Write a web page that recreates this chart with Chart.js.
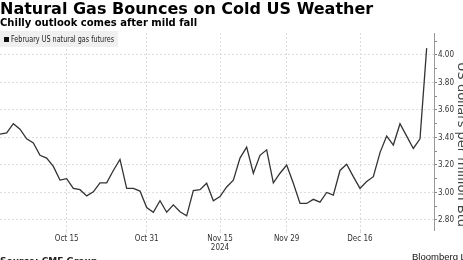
<!DOCTYPE html>
<html>
<head>
<meta charset="utf-8">
<script src="https://cdn.jsdelivr.net/npm/chart.js@4.4.1/dist/chart.umd.min.js"></script>
<style>
  html, body { margin: 0; padding: 0; background: #fff; }
  body { width: 463px; height: 260px; overflow: hidden; position: relative; font-family: "DejaVu Sans", sans-serif; color: #000; }
  #title { position: absolute; left: 0; top: -1px; font-size: 16px; font-weight: bold; white-space: nowrap; }
  #subtitle { position: absolute; left: 0; top: 17px; font-size: 10px; font-weight: bold; white-space: nowrap; }
  #wrap { position: absolute; left: 0; top: 0; width: 475px; height: 260px; }
  #legend { position: absolute; left: 0; top: 31px; width: 118px; height: 16px; background: #f0f0f0; font-size: 8.5px; line-height: 16px; color: #222; white-space: nowrap; overflow: hidden; }
  #legend i { display: inline-block; width: 5px; height: 5px; background: #111; margin: 0 0 0 4px; vertical-align: 0; }
  #legend span { display: inline-block; transform: scaleX(0.76); transform-origin: 0 50%; margin-left: 2px; }
  #ytitle { position: absolute; left: 456px; top: 62px; writing-mode: vertical-rl; font-size: 13px; line-height: 13px; color: #444; white-space: nowrap; }
  #source { position: absolute; left: 0; top: 256px; font-size: 9px; font-weight: bold; color: #222; white-space: nowrap; }
  #brand { position: absolute; left: 412px; top: 251px; font-family: "Liberation Sans", sans-serif; font-size: 9.5px; color: #111; white-space: nowrap; }
</style>
</head>
<body>
<div id="wrap"><canvas id="chart" width="475" height="260"></canvas></div>
<div id="title">Natural Gas Bounces on Cold US Weather</div>
<div id="subtitle">Chilly outlook comes after mild fall</div>
<div id="legend"><i></i><span>February US natural gas futures</span></div>
<div id="ytitle">US dollars per million Btu</div>
<div id="source">Source: CME Group</div>
<div id="brand">Bloomberg L.P.</div>
<script>
// trading days, Oct 1 - Dec 31 2024
const dates = [
  'Oct 1','Oct 2','Oct 3','Oct 4','Oct 7','Oct 8','Oct 9','Oct 10','Oct 11','Oct 14',
  'Oct 15','Oct 16','Oct 17','Oct 18','Oct 21','Oct 22','Oct 23','Oct 24','Oct 25','Oct 28',
  'Oct 29','Oct 30','Oct 31','Nov 1','Nov 4','Nov 5','Nov 6','Nov 7','Nov 8','Nov 11',
  'Nov 12','Nov 13','Nov 14','Nov 15','Nov 18','Nov 19','Nov 20','Nov 21','Nov 22','Nov 25',
  'Nov 26','Nov 27','Nov 28','Nov 29','Dec 2','Dec 3','Dec 4','Dec 5','Dec 6','Dec 9',
  'Dec 10','Dec 11','Dec 12','Dec 13','Dec 16','Dec 17','Dec 18','Dec 19','Dec 20','Dec 23',
  'Dec 24','Dec 26','Dec 27','Dec 30','Dec 31'
];
// February US natural gas futures, USD per MMBtu
const prices = [
  3.425, 3.433, 3.50, 3.46, 3.39, 3.36, 3.27, 3.25, 3.19, 3.09,
  3.10, 3.03, 3.02, 2.975, 3.005, 3.07, 3.07, 3.16, 3.24, 3.03,
  3.03, 3.01, 2.89, 2.856, 2.94, 2.856, 2.91, 2.86, 2.83, 3.013,
  3.02, 3.067, 2.94, 2.97, 3.04, 3.09, 3.25, 3.33, 3.14, 3.27,
  3.31, 3.07, 3.14, 3.20, 3.067, 2.92, 2.92, 2.95, 2.93, 3.00,
  2.98, 3.16, 3.205, 3.115, 3.03, 3.08, 3.115, 3.29, 3.41, 3.345,
  3.50, 3.41, 3.32, 3.39, 4.05
];
const xTickDates = ['Oct 15', 'Oct 31', 'Nov 15', 'Nov 29', 'Dec 16'];
const xTickLabels = [['Oct 15'], ['Oct 31'], ['Nov 15', '2024'], ['Nov 29'], ['Dec 16']];
const yTickLabels = [2.8, 3.0, 3.2, 3.4, 3.6, 3.8, 4.0];

const tickFont = { family: '"DejaVu Sans Condensed", "DejaVu Sans", sans-serif', size: 8 };
const isMajor = v => yTickLabels.some(t => Math.abs(t - v) < 1e-6);

new Chart(document.getElementById('chart'), {
  type: 'line',
  data: {
    datasets: [{
      label: 'February US natural gas futures',
      data: prices.map((p, i) => ({ x: i, y: p })),
      borderColor: '#333',
      borderWidth: 1.3,
      pointRadius: 0,
      tension: 0
    }]
  },
  options: {
    responsive: false,
    animation: false,
    layout: { padding: { top: 33, left: 0, right: 0, bottom: 0 } },
    plugins: { legend: { display: false }, tooltip: { enabled: false } },
    scales: {
      x: {
        type: 'linear',
        min: 0,
        max: 65.1,
        afterBuildTicks: s => { s.ticks = xTickDates.map(d => ({ value: dates.indexOf(d) })); },
        afterFit: s => { s.height = 30; },
        ticks: {
          font: tickFont,
          color: '#333',
          padding: 1,
          maxRotation: 0,
          callback: v => xTickLabels[xTickDates.indexOf(dates[v])]
        },
        grid: { color: '#ddd', tickLength: 3, tickColor: '#ddd' },
        border: { display: false, dash: [2, 2] }
      },
      y: {
        position: 'right',
        min: 2.727,
        max: 4.16,
        afterBuildTicks: s => {
          const t = [];
          for (let k = 28; k <= 41; k++) t.push({ value: k / 10 });
          s.ticks = t;
        },
        afterFit: s => { s.width = 41; },
        ticks: {
          font: tickFont,
          color: '#333',
          padding: 1,
          callback: v => isMajor(v) ? v.toFixed(2) : ''
        },
        grid: {
          color: c => isMajor(c.tick.value) ? '#ddd' : 'rgba(0,0,0,0)',
          tickColor: '#888',
          tickLength: 3
        },
        border: { display: true, color: '#999', dash: [2, 2] }
      }
    }
  }
});
</script>
</body>
</html>
